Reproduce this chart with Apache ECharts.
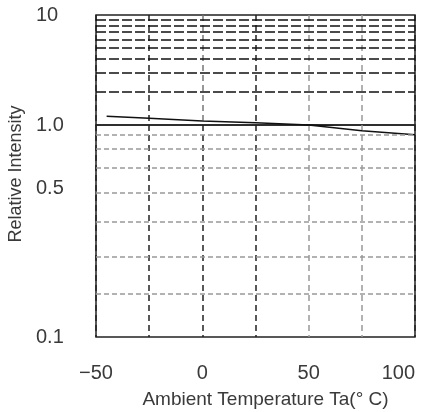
<!DOCTYPE html>
<html lang="en">
<head>
    <meta charset="UTF-8">
    <title>Relative Intensity vs Ambient Temperature</title>
    <script src="https://cdn.jsdelivr.net/npm/echarts@6/dist/echarts.min.js"></script>
    <style>
        html, body { margin: 0; padding: 0; background: #ffffff; }
        #chart { width: 424px; height: 412px; }
    </style>
</head>
<body>
<div id="chart"></div>

<script>
    // values
    var temps = [-45, -25, 0, 25, 50, 75, 100];
    var intensity = [1.2, 1.15, 1.09, 1.05, 1.0, 0.94, 0.9];

    // horizontal grid lines (upper decade and lower decade)
    var upperLines = [2, 3, 4, 5, 6, 7, 8, 9];
    var lowerLines = [0.9, 0.77, 0.63, 0.48, 0.35, 0.24, 0.16];

    var xTicks = [-50, 0, 50, 100];
    var yLabels = [0.1, 0.5, 1];

    var font = 'Liberation Sans, Arial, sans-serif';
    var textColor = '#3a3a3a';
    var points = temps.map(function (t, i) { return [t, intensity[i]]; });

    function lineMarks(values) {
        return values.map(function (v) { return {yAxis: v}; });
    }

    var chart = echarts.init(document.getElementById('chart'), null, {renderer: 'canvas'});
    var option = {
        animation: false,
        backgroundColor: '#ffffff',
        textStyle: {fontFamily: font, color: textColor},
        grid: [
            {left: 96, top: 15, width: 319, height: 110, show: true, borderColor: '#222', borderWidth: 1.5, outerBoundsMode: 'none'},
            {left: 96, top: 125, width: 319, height: 212, show: true, borderColor: '#222', borderWidth: 1.5, outerBoundsMode: 'none'}
        ],
        xAxis: [
            {
                gridIndex: 0, type: 'value', min: -50, max: 100, interval: 25,
                axisLine: {show: false}, axisTick: {show: false}, axisLabel: {show: false},
                splitLine: {show: true, lineStyle: {color: ['#222', '#222', '#777', '#222', '#999', '#999', '#222'], type: [6, 4], width: 1.5}}
            },
            {
                gridIndex: 1, type: 'value', min: -50, max: 100, interval: 25,
                axisLine: {show: false}, axisTick: {show: false},
                axisLabel: {
                    fontSize: 20, color: textColor, margin: 26, fontFamily: font,
                    alignMaxLabel: 'right',
                    formatter: function (v) {
                        if (xTicks.indexOf(v) < 0) return '';
                        return v < 0 ? '\u2212' + Math.abs(v) : String(v);
                    }
                },
                splitLine: {show: true, lineStyle: {color: ['#222', '#222', '#222', '#222', '#999', '#999', '#222'], type: [6, 4], width: 1.5}},
                name: 'Ambient Temperature Ta(\u00b0 C)',
                nameLocation: 'middle', nameGap: 53,
                nameTextStyle: {fontSize: 19, color: textColor, fontFamily: font, padding: [0, 0, 0, 20]}
            }
        ],
        yAxis: [
            {
                gridIndex: 0, type: 'log', logBase: 10, min: 1, max: 10,
                axisLine: {show: false}, axisTick: {show: false}, splitLine: {show: false},
                axisLabel: {
                    fontSize: 20, color: textColor, align: 'left', margin: 60, fontFamily: font,
                    formatter: function (v) { return v >= 10 ? '10' : ''; }
                }
            },
            {
                gridIndex: 1, type: 'log', logBase: 10, min: 0.1, max: 1,
                axisLine: {show: false}, axisTick: {show: false}, splitLine: {show: false},
                axisLabel: {
                    fontSize: 20, color: textColor, align: 'left', margin: 60, fontFamily: font,
                    customValues: yLabels,
                    formatter: function (v) { return Number(v).toFixed(1); }
                }
            }
        ],
        graphic: [{
            type: 'text', x: 16, y: 174, rotation: Math.PI / 2,
            style: {
                text: 'Relative Intensity', fontSize: 18, fontFamily: font, fill: textColor,
                align: 'center', verticalAlign: 'middle'
            }
        }],
        series: [
            {
                type: 'line', xAxisIndex: 0, yAxisIndex: 0, data: points, clip: true,
                showSymbol: false, symbol: 'none',
                lineStyle: {color: '#111', width: 1.5},
                markLine: {
                    silent: true, symbol: 'none', label: {show: false},
                    lineStyle: {color: '#111', type: [10, 3], width: 1.5},
                    data: lineMarks(upperLines)
                }
            },
            {
                type: 'line', xAxisIndex: 1, yAxisIndex: 1, data: points, clip: true,
                showSymbol: false, symbol: 'none',
                lineStyle: {color: '#111', width: 1.5},
                markLine: {
                    silent: true, symbol: 'none', label: {show: false},
                    lineStyle: {color: '#999', type: [5, 3], width: 1.5},
                    data: lineMarks(lowerLines)
                }
            }
        ]
    };
    chart.setOption(option);
</script>
</body>
</html>
